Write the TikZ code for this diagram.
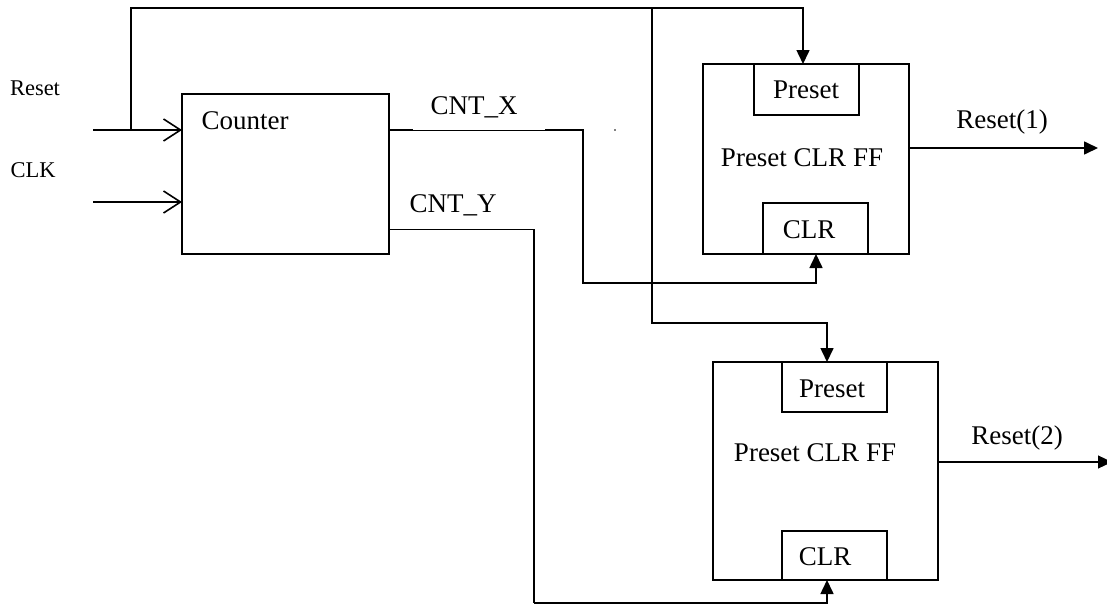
\documentclass[tikz,border=0pt]{standalone}
\usepackage{fontspec}
\setmainfont{Liberation Serif}
\usetikzlibrary{arrows.meta}
\tikzset{
  box/.style={draw, line width=1.6pt, rectangle, inner sep=0pt, outer sep=0pt},
  thickline/.style={line width=1.6pt},
  thinline/.style={line width=0.9pt},
  openarr/.style={line width=1.6pt, -{Straight Barb[length=17pt,width=22pt,line width=1.6pt]}},
  triarr/.style={line width=1.6pt, -{Triangle[length=14pt,width=13pt]}},
  lbl/.style={inner sep=0pt, font=\fontsize{27}{32}\selectfont},
  smalllbl/.style={inner sep=0pt, font=\fontsize{22.5}{27}\selectfont}
}
\begin{document}
\begin{tikzpicture}[x=1pt,y=-1pt]
\useasboundingbox (0,0) rectangle (1107,605);

% blocks
\node[box, minimum width=207pt, minimum height=160pt] (cnt) at (285.5,174) {};
\node[box, minimum width=206pt, minimum height=190pt] (ff1) at (806,159) {};
\node[box, minimum width=105pt, minimum height=51pt] (ff1p) at (806.5,89.5) {};
\node[box, minimum width=105pt, minimum height=51pt] (ff1c) at (815.5,228.5) {};
\node[box, minimum width=225pt, minimum height=218pt] (ff2) at (825.5,471) {};
\node[box, minimum width=105pt, minimum height=50pt] (ff2p) at (834.5,387) {};
\node[box, minimum width=105pt, minimum height=49pt] (ff2c) at (834.5,555.5) {};

% texts
\node[lbl] (tcnt) at (245,121) {Counter};
\node[lbl] (tff1) at (802,158) {Preset CLR FF};
\node[lbl] (tff1p) at (806,90) {Preset};
\node[lbl] (tff1c) at (809,230) {CLR};
\node[lbl] (tff2) at (815,453) {Preset CLR FF};
\node[lbl] (tff2p) at (832,389) {Preset};
\node[lbl] (tff2c) at (825,557) {CLR};
\node[smalllbl] (treset) at (35,88) {Reset};
\node[smalllbl] (tclk) at (33,170) {CLK};
\node[lbl] (tcx) at (474,107) {CNT\_X};
\node[lbl] (tcy) at (453,205) {CNT\_Y};
\node[lbl] (tr1) at (1002,122) {Reset(1)};
\node[lbl] (tr2) at (1017,438) {Reset(2)};

% coordinates
\coordinate (rin) at (93,130);
\coordinate (cin) at (93,202);
\coordinate (j1) at (131,130);
\coordinate (t1) at (131,8);
\coordinate (j2) at (652,8);
\coordinate (k2) at (652,323);
\coordinate (cx0) at (389,130);
\coordinate (cxa) at (413,130);
\coordinate (cxb) at (545,130);
\coordinate (cx1) at (583,130);
\coordinate (cx2) at (583,283);
\coordinate (cy0) at (389,229);
\coordinate (cy1) at (534,229);
\coordinate (cy2) at (534,603);
\coordinate (o1) at (1098,148);
\coordinate (o2s) at (953,462);
\coordinate (o2) at (1112,462);

% inputs
\draw[openarr] (rin) -- (rin -| cnt.west);
\draw[openarr] (cin) -- (cin -| cnt.west);

% reset distribution
\draw[triarr] (j1) -- (t1) -| ([xshift=-3.5pt]ff1p.north);
\draw[triarr] (j2) -- (k2) -| ([xshift=-7.5pt]ff2p.north);

% CNT_X
\draw[thinline] (cx0) -- (cx1);
\draw[thickline] (cx0) -- (cxa);
\draw[triarr] (cxb) -- (cx1) -- (cx2) -| ([xshift=0.5pt]ff1c.south);

% CNT_Y
\draw[thinline] (cy0) -- (cy1);
\draw[line width=1.3pt] (cy1) -- (cy2);
\draw[triarr] (cy2) -| ([xshift=-7.5pt]ff2c.south);

% outputs
\draw[triarr] (ff1.east |- o1) -- (o1);
\draw[thickline] (ff2.east |- o2s) -- (o2s);
\draw[line width=1.1pt, -{Triangle[length=14pt,width=13pt]}] (o2s) -- (o2);

% stray dot
\fill (615,130) circle (0.8pt);
\end{tikzpicture}
\end{document}
